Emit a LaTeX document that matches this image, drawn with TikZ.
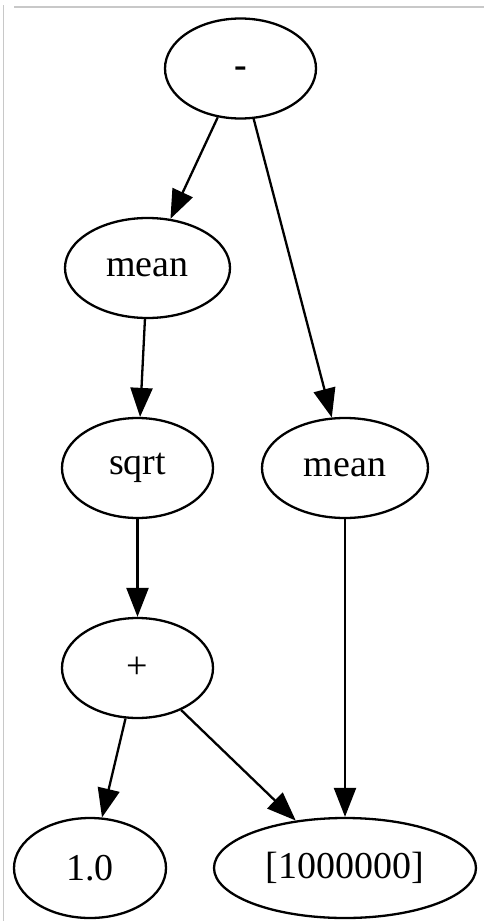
\documentclass[tikz,border=0pt]{standalone}
\usepackage{fontspec}
\setmainfont{Liberation Serif}
\usetikzlibrary{shapes.geometric,arrows.meta}

\tikzset{
  opnode/.style={ellipse, draw=black, line width=1.15pt, inner sep=0pt,
    minimum height=50pt, font=\fontsize{19}{21}\selectfont},
  flow/.style={draw=black, line width=1.15pt,
    -{Triangle[length=14.5pt,width=11pt]}},
  frame/.style={draw={rgb,255:red,200;green,200;blue,200}, line width=0.8pt}
}

\begin{document}
\begin{tikzpicture}[x=0.5pt,y=-0.5pt]
  \useasboundingbox (0,0) rectangle (484,921);
  \fill[white] (0,0) rectangle (484,921);

  % thin page edges
  \draw[frame] (14,7) -- (484,7);
  \draw[frame] (3.5,5) -- (3.5,921);

  % operation nodes
  \node[opnode, minimum width=75.5pt] (minus) at (240.5,68.5) {\smash{\raisebox{-4.5pt}{\textbf{-}}}};
  \node[opnode, minimum width=82.5pt] (meanL) at (147.5,268) {mean};
  \node[opnode, minimum width=75.5pt] (sqrt)  at (137.5,468) {sqrt};
  \node[opnode, minimum width=83pt]   (meanR) at (345,468)   {mean};
  \node[opnode, minimum width=75.5pt] (plus)  at (137.5,668) {+};
  \node[opnode, minimum width=76pt]   (one)   at (90,868)    {1.0};
  \node[opnode, minimum width=131pt]  (arr)   at (345,868)   {[1000000]};

  % data flow
  \draw[flow] (minus) -- (meanL);
  \draw[flow] (minus) -- (meanR);
  \draw[flow] (meanL) -- (sqrt);
  \draw[flow] (sqrt)  -- (plus);
  \draw[flow] (meanR) -- (arr);
  \draw[flow] (plus)  -- (one);
  \draw[flow] (plus)  -- (arr);
\end{tikzpicture}
\end{document}
